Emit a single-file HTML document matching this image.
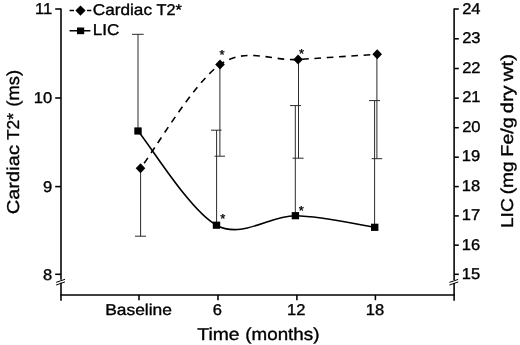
<!DOCTYPE html>
<html><head><meta charset="utf-8"><title>Cardiac T2* and LIC over time</title>
<style>html,body{margin:0;padding:0;background:#fff}svg{display:block}</style></head>
<body>
<svg width="520" height="345" viewBox="0 0 520 345" font-family="'Liberation Sans', Arial, Helvetica, sans-serif" fill="#000" text-rendering="geometricPrecision">
<rect width="520" height="345" fill="#fff"/>
<g stroke="#000" stroke-width="1.55" fill="none">
<path d="M61.0 8.4V279.8M61.0 282.8V300.7"/>
<path d="M454.1 8.4V280M454.1 283V300.7"/>
<path d="M60.4 295H454.70000000000005"/>
<path d="M55.2 9H61.0"/>
<path d="M55.2 98H61.0"/>
<path d="M55.2 186.6H61.0"/>
<path d="M55.2 274.3H61.0"/>
<path d="M454.1 9.00H458.8"/>
<path d="M454.1 38.80H458.8"/>
<path d="M454.1 68.51H458.8"/>
<path d="M454.1 98.15H458.8"/>
<path d="M454.1 127.71H458.8"/>
<path d="M454.1 157.19H458.8"/>
<path d="M454.1 186.59H458.8"/>
<path d="M454.1 215.91H458.8"/>
<path d="M454.1 245.16H458.8"/>
<path d="M454.1 274.32H458.8"/>
<path d="M139 295V300.2"/>
<path d="M218 295V300.2"/>
<path d="M296.9 295V300.2"/>
<path d="M375.4 295V300.2"/>
</g>
<g stroke="#000" stroke-width="1" fill="none">
<path d="M56.1 282.4L65 279.3M56.1 285L65 281.9"/>
<path d="M449.4 282.4L458.2 279.4M449.4 285L458.2 282"/>
</g>
<g stroke="#2a2a2a" stroke-width="1" fill="none">
<path d="M138 131V34.3M132 34.3H143.7"/>
<path d="M216.6 225V130.2M211 130.2H221.5"/>
<path d="M295.3 215V105.6M290 105.6H301"/>
<path d="M374.6 227V100.6M369 100.6H380"/>
<path d="M140.6 168V236.2M135 236.2H146"/>
<path d="M219.9 64V156.2M214.6 156.2H225"/>
<path d="M298.5 59V158.2M292.5 158.2H303.6"/>
<path d="M376.9 54V158.7M371.7 158.7H382.2"/>
</g>
<path d="M140.50 168.30 C153.75 151.02 193.73 82.73 220.00 64.60 C246.27 46.47 271.90 61.22 298.10 59.50 C324.30 57.78 364.02 55.17 377.20 54.30" stroke="#000" stroke-width="1.6" fill="none" stroke-dasharray="6.6 5.7" stroke-dashoffset="6"/>
<path d="M138.00 131.00 C151.08 146.70 190.27 211.08 216.50 225.20 C242.73 239.32 269.03 215.35 295.40 215.70 C321.77 216.05 361.48 225.37 374.70 227.30" stroke="#000" stroke-width="1.6" fill="none"/>
<path d="M140.5 163.30L145.30 168.3L140.5 173.30L135.70 168.3Z"/>
<path d="M220 59.60L224.80 64.6L220 69.60L215.20 64.6Z"/>
<path d="M298.1 54.50L302.90 59.5L298.1 64.50L293.30 59.5Z"/>
<path d="M377.2 49.30L382.00 54.3L377.2 59.30L372.40 54.3Z"/>
<rect x="134.30" y="127.40" width="7.4" height="7.2"/>
<rect x="212.80" y="221.60" width="7.4" height="7.2"/>
<rect x="291.70" y="212.10" width="7.4" height="7.2"/>
<rect x="371.00" y="223.70" width="7.4" height="7.2"/>
<path d="M69.6 10.6H74M87 10.6H91.3M69.6 30.8H90.4" stroke="#000" stroke-width="1.5"/>
<path d="M80.5 5.4L85.6 10.6L80.5 15.8L75.4 10.6Z"/>
<rect x="77" y="27.5" width="7.2" height="6.7"/>
<text transform="translate(92.82 14.9) scale(1.1012 1)" font-size="15.6" text-anchor="start" stroke="#000" stroke-width="0.35">Cardiac</text>
<text transform="translate(156.51 14.9) scale(1.0455 1)" font-size="15.6" text-anchor="start" stroke="#000" stroke-width="0.35">T2*</text>
<text transform="translate(92.76 35.4) scale(1.0967 1)" font-size="15.6" text-anchor="start" stroke="#000" stroke-width="0.35">LIC</text>
<text transform="translate(52.1 13.5) scale(1.06 1)" font-size="15.6" text-anchor="end" stroke="#000" stroke-width="0.35">11</text>
<text transform="translate(52.1 102.5) scale(1.06 1)" font-size="15.6" text-anchor="end" stroke="#000" stroke-width="0.35">10</text>
<text transform="translate(52.1 191.7) scale(1.06 1)" font-size="15.6" text-anchor="end" stroke="#000" stroke-width="0.35">9</text>
<text transform="translate(52.1 280.0) scale(1.06 1)" font-size="15.6" text-anchor="end" stroke="#000" stroke-width="0.35">8</text>
<text transform="translate(462.15 13.7) scale(1.0600 1)" font-size="15.6" text-anchor="start" stroke="#000" stroke-width="0.35">24</text>
<text transform="translate(462.15 43.2) scale(1.0600 1)" font-size="15.6" text-anchor="start" stroke="#000" stroke-width="0.35">23</text>
<text transform="translate(462.15 72.7) scale(1.0600 1)" font-size="15.6" text-anchor="start" stroke="#000" stroke-width="0.35">22</text>
<text transform="translate(462.15 102.2) scale(1.0600 1)" font-size="15.6" text-anchor="start" stroke="#000" stroke-width="0.35">21</text>
<text transform="translate(462.15 131.7) scale(1.0600 1)" font-size="15.6" text-anchor="start" stroke="#000" stroke-width="0.35">20</text>
<text transform="translate(461.73 161.2) scale(1.0600 1)" font-size="15.6" text-anchor="start" stroke="#000" stroke-width="0.35">19</text>
<text transform="translate(461.73 190.7) scale(1.0600 1)" font-size="15.6" text-anchor="start" stroke="#000" stroke-width="0.35">18</text>
<text transform="translate(461.73 220.2) scale(1.0600 1)" font-size="15.6" text-anchor="start" stroke="#000" stroke-width="0.35">17</text>
<text transform="translate(461.73 249.7) scale(1.0600 1)" font-size="15.6" text-anchor="start" stroke="#000" stroke-width="0.35">16</text>
<text transform="translate(461.73 279.2) scale(1.0600 1)" font-size="15.6" text-anchor="start" stroke="#000" stroke-width="0.35">15</text>
<text transform="translate(105.14 315.1) scale(1.1170 1)" font-size="15.6" text-anchor="start" stroke="#000" stroke-width="0.35">Baseline</text>
<text transform="translate(212.85 315.1) scale(1.0600 1)" font-size="15.6" text-anchor="start" stroke="#000" stroke-width="0.35">6</text>
<text transform="translate(287.02 315.1) scale(1.0600 1)" font-size="15.6" text-anchor="start" stroke="#000" stroke-width="0.35">12</text>
<text transform="translate(365.85 315.1) scale(1.0600 1)" font-size="15.6" text-anchor="start" stroke="#000" stroke-width="0.35">18</text>
<text transform="translate(197.34 339.8) scale(1.1230 1)" font-size="17.2" text-anchor="start" stroke="#000" stroke-width="0.35">Time</text>
<text transform="translate(245.30 339.8) scale(1.0935 1)" font-size="17.2" text-anchor="start" stroke="#000" stroke-width="0.35">(months)</text>
<text transform="translate(18.5 214.33) rotate(-90) scale(1.1697 1)" font-size="17.2" text-anchor="start" stroke="#000" stroke-width="0.35">Cardiac</text>
<text transform="translate(18.5 140.01) rotate(-90) scale(1.0057 1)" font-size="17.2" text-anchor="start" stroke="#000" stroke-width="0.35">T2*</text>
<text transform="translate(18.5 106.67) rotate(-90) scale(1.0696 1)" font-size="17.2" text-anchor="start" stroke="#000" stroke-width="0.35">(ms)</text>
<text transform="translate(513.3 228.11) rotate(-90) scale(1.1202 1)" font-size="17.2" text-anchor="start" stroke="#000" stroke-width="0.35">LIC</text>
<text transform="translate(513.3 194.32) rotate(-90) scale(1.1136 1)" font-size="17.2" text-anchor="start" stroke="#000" stroke-width="0.35">(mg</text>
<text transform="translate(513.3 156.65) rotate(-90) scale(1.1456 1)" font-size="17.2" text-anchor="start" stroke="#000" stroke-width="0.35">Fe/g</text>
<text transform="translate(513.3 113.17) rotate(-90) scale(1.1606 1)" font-size="17.2" text-anchor="start" stroke="#000" stroke-width="0.35">dry</text>
<text transform="translate(513.3 81.23) rotate(-90) scale(1.1925 1)" font-size="17.2" text-anchor="start" stroke="#000" stroke-width="0.35">wt)</text>
<text transform="translate(222 59)" font-size="13" text-anchor="middle" stroke="#000" stroke-width="0.35">*</text>
<text transform="translate(301.6 58)" font-size="13" text-anchor="middle" stroke="#000" stroke-width="0.35">*</text>
<text transform="translate(222.7 222.9)" font-size="13" text-anchor="middle" stroke="#000" stroke-width="0.35">*</text>
<text transform="translate(301.4 215)" font-size="13" text-anchor="middle" stroke="#000" stroke-width="0.35">*</text>
</svg>
</body></html>
